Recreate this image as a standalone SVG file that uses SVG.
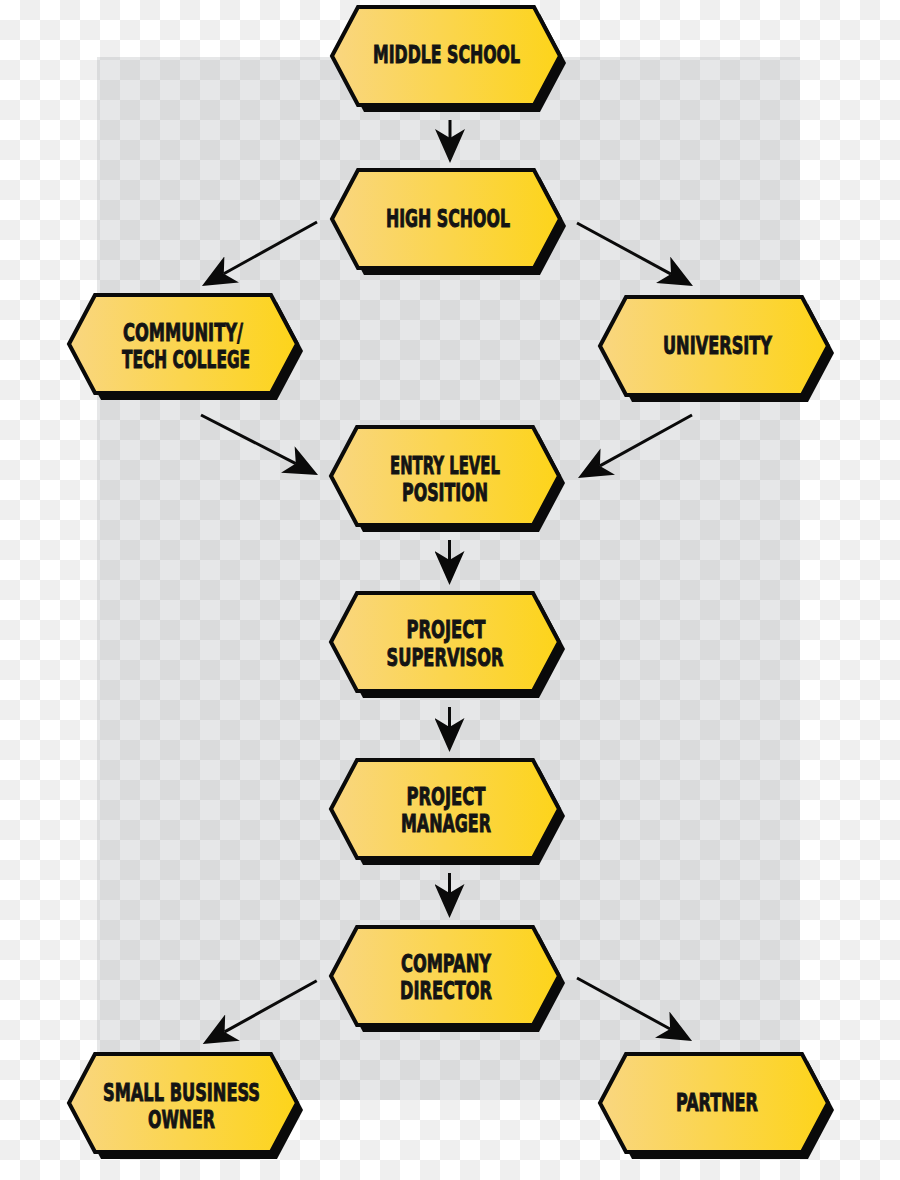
<svg xmlns="http://www.w3.org/2000/svg" xmlns:xlink="http://www.w3.org/1999/xlink" width="900" height="1180" viewBox="0 0 900 1180">
<style>
.hex{fill:url(#yg);stroke:#0a0a0a;stroke-width:4;stroke-linejoin:miter}
.sh{fill:#0a0a0a}
.lbl{font-family:"Liberation Sans Narrow","DejaVu Sans Condensed","Liberation Sans",sans-serif;font-weight:bold;font-size:25px;fill:#141414;stroke:#141414;stroke-width:0.9;text-anchor:middle}
.con{stroke:#0a0a0a;stroke-width:3;fill:none;marker-end:url(#ah)}
</style>
<defs>
<pattern id="chk" patternUnits="userSpaceOnUse" width="40" height="40">
<rect width="40" height="40" fill="#ffffff"/>
<rect x="20" y="0" width="20" height="20" fill="#efefef"/>
<rect x="0" y="20" width="20" height="20" fill="#efefef"/>
</pattern>
<linearGradient id="yg" x1="0" y1="0" x2="1" y2="0">
<stop offset="0" stop-color="#f9d680"/>
<stop offset="1" stop-color="#fdd41a"/>
</linearGradient>
<polygon id="hx" points="-114,0 -88,-49 88,-49 114,0 88,49 -88,49"/>
<marker id="ah" markerUnits="userSpaceOnUse" markerWidth="34" markerHeight="30" viewBox="0 0 34 30" refX="9" refY="15" orient="auto">
<path d="M0,0 L34,15 L0,30 L9,15 Z" fill="#0a0a0a"/>
</marker>
</defs>
<rect width="900" height="1180" fill="url(#chk)"/>
<rect x="97" y="57" width="703" height="1043" fill="rgb(155,158,162)" fill-opacity="0.25"/>

<g id="connectors">
<line class="con" x1="450" y1="120" x2="450" y2="138"/>
<line class="con" x1="317" y1="222" x2="223.8" y2="273.8"/>
<line class="con" x1="577" y1="223" x2="671" y2="274.1"/>
<line class="con" x1="201" y1="415" x2="295.8" y2="463.6"/>
<line class="con" x1="692" y1="415" x2="599.9" y2="465.9"/>
<line class="con" x1="449.5" y1="540" x2="449.5" y2="560"/>
<line class="con" x1="449.5" y1="707" x2="449.5" y2="727"/>
<line class="con" x1="449.5" y1="873" x2="449.5" y2="893"/>
<line class="con" x1="316.7" y1="980.7" x2="224.6" y2="1031.9"/>
<line class="con" x1="577" y1="978" x2="670.1" y2="1029"/>
</g>

<g id="middle-school">
<use href="#hx" class="sh" transform="translate(452,63)"/>
<use href="#hx" class="hex" transform="translate(446,56)"/>
<text class="lbl" x="446.5" y="63" textLength="147" lengthAdjust="spacingAndGlyphs">MIDDLE SCHOOL</text>
</g>
<g id="high-school">
<use href="#hx" class="sh" transform="translate(452,226)"/>
<use href="#hx" class="hex" transform="translate(446,219)"/>
<text class="lbl" x="448" y="227" textLength="124" lengthAdjust="spacingAndGlyphs">HIGH SCHOOL</text>
</g>
<g id="community-college">
<use href="#hx" class="sh" transform="translate(189,351)"/>
<use href="#hx" class="hex" transform="translate(183,344)"/>
<text class="lbl" x="183" y="341" textLength="120" lengthAdjust="spacingAndGlyphs">COMMUNITY/</text>
<text class="lbl" x="186" y="368" textLength="128" lengthAdjust="spacingAndGlyphs">TECH COLLEGE</text>
</g>
<g id="university">
<use href="#hx" class="sh" transform="translate(720,353)"/>
<use href="#hx" class="hex" transform="translate(714,346)"/>
<text class="lbl" x="717.5" y="354" textLength="109" lengthAdjust="spacingAndGlyphs">UNIVERSITY</text>
</g>
<g id="entry-level">
<use href="#hx" class="sh" transform="translate(451,483)"/>
<use href="#hx" class="hex" transform="translate(445,476)"/>
<text class="lbl" x="445" y="474" textLength="110" lengthAdjust="spacingAndGlyphs">ENTRY LEVEL</text>
<text class="lbl" x="445" y="501" textLength="86" lengthAdjust="spacingAndGlyphs">POSITION</text>
</g>
<g id="project-supervisor">
<use href="#hx" class="sh" transform="translate(451,649)"/>
<use href="#hx" class="hex" transform="translate(445,642)"/>
<text class="lbl" x="446" y="638" textLength="79" lengthAdjust="spacingAndGlyphs">PROJECT</text>
<text class="lbl" x="445" y="666" textLength="117" lengthAdjust="spacingAndGlyphs">SUPERVISOR</text>
</g>
<g id="project-manager">
<use href="#hx" class="sh" transform="translate(451,816)"/>
<use href="#hx" class="hex" transform="translate(445,809)"/>
<text class="lbl" x="446" y="805" textLength="79" lengthAdjust="spacingAndGlyphs">PROJECT</text>
<text class="lbl" x="446" y="832" textLength="90" lengthAdjust="spacingAndGlyphs">MANAGER</text>
</g>
<g id="company-director">
<use href="#hx" class="sh" transform="translate(451,983)"/>
<use href="#hx" class="hex" transform="translate(445,976)"/>
<text class="lbl" x="446" y="972" textLength="90" lengthAdjust="spacingAndGlyphs">COMPANY</text>
<text class="lbl" x="446" y="999" textLength="92" lengthAdjust="spacingAndGlyphs">DIRECTOR</text>
</g>
<g id="small-business-owner">
<use href="#hx" class="sh" transform="translate(189,1110)"/>
<use href="#hx" class="hex" transform="translate(183,1103)"/>
<text class="lbl" x="181.5" y="1101" textLength="157" lengthAdjust="spacingAndGlyphs">SMALL BUSINESS</text>
<text class="lbl" x="181.5" y="1128" textLength="67" lengthAdjust="spacingAndGlyphs">OWNER</text>
</g>
<g id="partner">
<use href="#hx" class="sh" transform="translate(720,1110)"/>
<use href="#hx" class="hex" transform="translate(714,1103)"/>
<text class="lbl" x="717" y="1111" textLength="82" lengthAdjust="spacingAndGlyphs">PARTNER</text>
</g>
</svg>
